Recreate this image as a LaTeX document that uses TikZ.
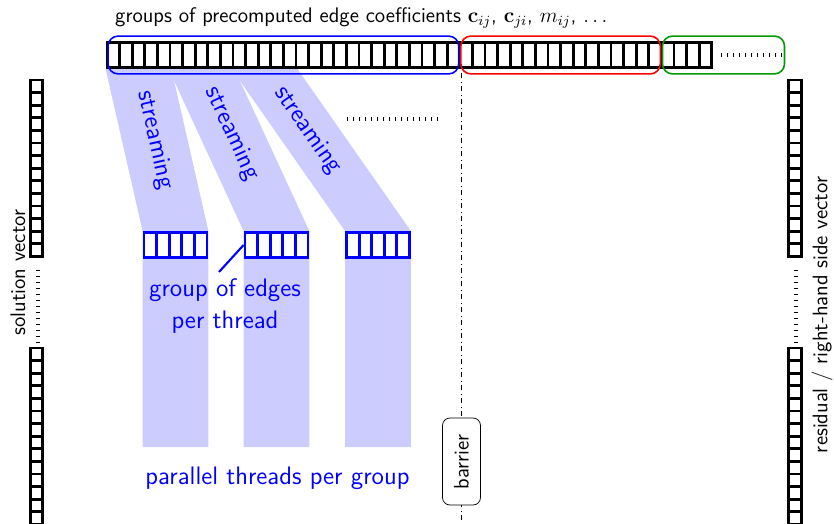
\documentclass[tikz,border=0pt]{standalone}
\usepackage{amsmath}
\usepackage{amssymb}
\usepackage{tikz}
\usetikzlibrary{positioning,fit,backgrounds}
\tikzset{cell/.style={rectangle, fill=white, draw=black, line width=1.6pt, minimum width=2.52mm, minimum height=5mm, inner sep=0mm}}
\tikzset{vcell/.style={rectangle, fill=white, draw=black, line width=1.6pt, minimum size=2.52mm, inner sep=0mm}}
\tikzset{tcell/.style={rectangle, fill=white, draw=blue, line width=1.6pt, minimum width=2.52mm, minimum height=5mm, inner sep=0mm}}
\tikzset{grp/.style={rectangle, rounded corners=2mm, line width=0.9pt, inner xsep=-0.5mm, inner ysep=1mm}}
\tikzset{band/.style={fill=blue!20, draw=none}}
\tikzset{tickdots/.style={line width=2.4pt, dash pattern=on 0.5pt off 2.9pt}}
\tikzset{stream/.style={text=blue, font=\sffamily\Large, inner sep=0mm}}
\tikzset{bluelabel/.style={text=blue, font=\sffamily\Large, align=center}}
\tikzset{sidelabel/.style={rotate=90, font=\sffamily\large}}

\begin{document}
\begin{tikzpicture}[font=\sffamily]
    \useasboundingbox (0,0) rectangle (16.68,-10.48);

    % edge coefficients
    \foreach \i in {1,...,48}
      \node[cell] (c\i) at ({2.14+(\i-0.5)*0.252}, -1.1) {};
    \coordinate (dotbeg) at (14.42,-1.1);
    \coordinate (dotend) at (15.66,-1.1);
    \coordinate (gend)   at (15.74,-1.1);
    \draw[tickdots] (dotbeg) -- (dotend);

    \node[grp, draw=blue, fit=(c1)(c28)] (gblue) {};
    \node[grp, draw=red, fit=(c29)(c44)] (gred) {};
    \node[grp, draw=green!60!black, fit=(c45)(c48)(gend)] (ggreen) {};

    \node[anchor=west, font=\sffamily\large] (title) at (2.18,-0.36)
      {groups of precomputed edge coefficients $\mathbf{c}_{ij}$, $\mathbf{c}_{ji}$, $m_{ij}$, $\dots$};

    % solution and residual vectors
    \foreach \i in {1,...,14} {
      \node[vcell] (sa\i) at (0.73, {-1.6-(\i-0.5)*0.252}) {};
      \node[vcell] (sb\i) at (0.73, {-6.96-(\i-0.5)*0.252}) {};
      \node[vcell] (ra\i) at (15.9, {-1.6-(\i-0.5)*0.252}) {};
      \node[vcell] (rb\i) at (15.9, {-6.96-(\i-0.5)*0.252}) {};
    }
    \coordinate (sd1) at (0.76,-5.4);
    \coordinate (sd2) at (0.76,-6.86);
    \coordinate (rd1) at (15.92,-5.4);
    \coordinate (rd2) at (15.92,-6.86);
    \draw[tickdots] (sd1) -- (sd2);
    \draw[tickdots] (rd1) -- (rd2);

    \node[sidelabel] (sol) at (0.36,-5.45) {solution vector};
    \node[sidelabel] (res) at (16.44,-6.3) {residual / right-hand side vector};

    % groups of edges per thread
    \foreach \g/\x in {1/3.51, 2/5.53, 3/7.56}
      \foreach \i in {1,...,5}
        \node[tcell] (t\g\i) at ({\x+(\i-3)*0.252}, -4.9) {};

    \coordinate (bot) at (0,-8.94);
    \begin{scope}[on background layer]
      \fill[band] (c1.south west) -- (c5.south east) -- (t15.north east)
        -- (t15.north east |- bot) -- (t11.north west |- bot) -- (t11.north west) -- cycle;
      \fill[band] (c6.south west) -- (c10.south east) -- (t25.north east)
        -- (t25.north east |- bot) -- (t21.north west |- bot) -- (t21.north west) -- cycle;
      \fill[band] (c11.south west) -- (c15.south east) -- (t35.north east)
        -- (t35.north east |- bot) -- (t31.north west |- bot) -- (t31.north west) -- cycle;
    \end{scope}

    \path (c3.south) -- (t13.north) node[pos=0.44, sloped, stream] {streaming};
    \path (c8.south) -- (t23.north) node[pos=0.4, sloped, stream] {streaming};
    \path (c13.south) -- (t33.north) node[pos=0.38, sloped, stream] {streaming};

    \coordinate (md1) at (6.94,-2.38);
    \coordinate (md2) at (8.84,-2.38);
    \draw[tickdots] (md1) -- (md2);

    \coordinate (lead) at (4.38,-5.44);
    \draw[blue, line width=1.2pt] (t21.west) -- (lead);
    \node[bluelabel] (lbl) at (4.5,-6.12) {group of edges\\per thread};
    \node[bluelabel] (par) at (5.55,-9.56) {parallel threads per group};

    % barrier
    \coordinate (brtop) at (9.22,-1.46);
    \coordinate (brbot) at (9.22,-10.48);
    \draw[dashdotted] (brtop) -- (brbot);
    \node[draw, fill=white, rounded corners=1.5mm, rotate=90, minimum width=17.4mm,
      minimum height=7.6mm, inner sep=0mm, font=\sffamily\large] (bar) at (9.23,-9.23) {barrier};
  \end{tikzpicture}
\end{document}
